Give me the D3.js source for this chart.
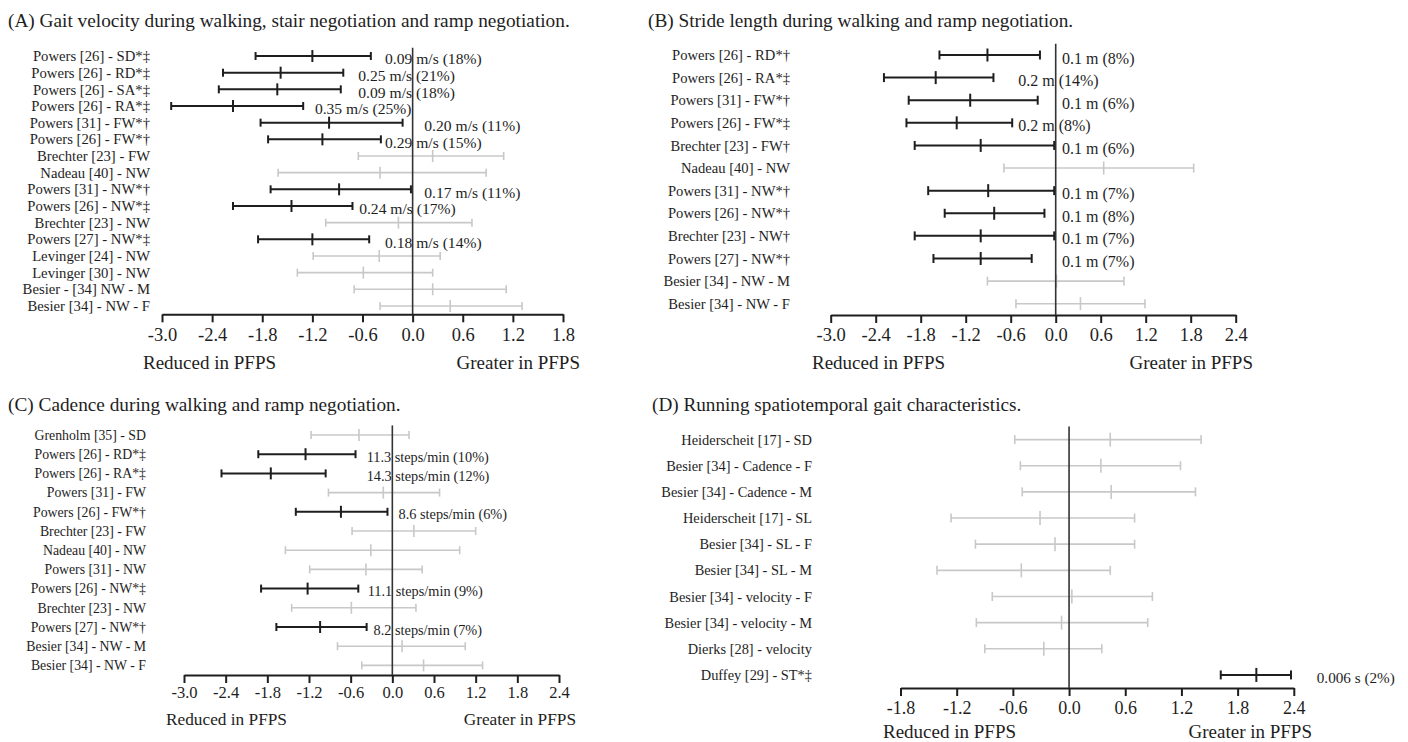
<!DOCTYPE html>
<html><head><meta charset="utf-8">
<script src="https://cdn.jsdelivr.net/npm/d3@7"></script>
<style>
body{margin:0;background:#fff}
svg{display:block}
text{font-family:"Liberation Serif","Times New Roman",serif;fill:#1e1e1e}
</style>
</head><body>
<svg id="chart" width="1408" height="742"></svg>
<script>
// ---------- Panel A : Gait velocity ----------
const titleA = "(A) Gait velocity during walking, stair negotiation and ramp negotiation.";
const labelsA = ["Powers [26] - SD*‡","Powers [26] - RD*‡","Powers [26] - SA*‡","Powers [26] - RA*‡",
  "Powers [31] - FW*†","Powers [26] - FW*†","Brechter [23] - FW","Nadeau [40] - NW",
  "Powers [31] - NW*†","Powers [26] - NW*‡","Brechter [23] - NW","Powers [27] - NW*‡",
  "Levinger [24] - NW","Levinger [30] - NW","Besier - [34] NW - M","Besier [34] - NW - F"];
const meanA = [-1.20,-1.58,-1.62,-2.15,-1.00,-1.08,0.24,-0.39,-0.88,-1.45,-0.17,-1.20,-0.40,-0.59,0.24,0.45];
const lowA  = [-1.88,-2.27,-2.32,-2.89,-1.82,-1.73,-0.65,-1.61,-1.70,-2.15,-1.04,-1.85,-1.19,-1.38,-0.70,-0.39];
const highA = [-0.50,-0.83,-0.86,-1.31,-0.12,-0.38,1.09,0.88,-0.02,-0.72,0.71,-0.52,0.33,0.24,1.12,1.31];
const sigA  = [true,true,true,true,true,true,false,false,true,true,false,true,false,false,false,false];
const annotA = ["0.09 m/s (18%)","0.25 m/s (21%)","0.09 m/s (18%)","0.35 m/s (25%)","0.20 m/s (11%)",
  "0.29 m/s (15%)","","","0.17 m/s (11%)","0.24 m/s (17%)","","0.18 m/s (14%)","","","",""];
const annotAtA = [-0.33,-0.65,-0.65,-1.17,0.14,-0.33,null,null,0.14,-0.64,null,-0.33,null,null,null,null];
const ticksA = [-3.0,-2.4,-1.8,-1.2,-0.6,0.0,0.6,1.2,1.8];

// ---------- Panel B : Stride length ----------
const titleB = "(B) Stride length during walking and ramp negotiation.";
const labelsB = ["Powers [26] - RD*†","Powers [26] - RA*‡","Powers [31] - FW*†","Powers [26] - FW*‡",
  "Brechter [23] - FW†","Nadeau [40] - NW","Powers [31] - NW*†","Powers [26] - NW*†",
  "Brechter [23] - NW†","Powers [27] - NW*†","Besier [34] - NW - M","Besier [34] - NW - F"];
const meanB = [-0.91,-1.60,-1.14,-1.32,-1.00,0.64,-0.90,-0.82,-1.00,-1.00,0.01,0.33];
const lowB  = [-1.55,-2.29,-1.96,-1.99,-1.88,-0.69,-1.70,-1.48,-1.88,-1.63,-0.91,-0.53];
const highB = [-0.21,-0.83,-0.24,-0.58,-0.02,1.84,-0.02,-0.15,-0.02,-0.32,0.91,1.19];
const sigB  = [true,true,true,true,true,false,true,true,true,true,false,false];
const annotB = ["0.1 m (8%)","0.2 m (14%)","0.1 m (6%)","0.2 m (8%)","0.1 m (6%)","",
  "0.1 m (7%)","0.1 m (8%)","0.1 m (7%)","0.1 m (7%)","",""];
const annotAtB = [0.085,-0.50,0.085,-0.50,0.085,null,0.085,0.085,0.085,0.085,null,null];
const ticksB = [-3.0,-2.4,-1.8,-1.2,-0.6,0.0,0.6,1.2,1.8,2.4];

// ---------- Panel C : Cadence ----------
const titleC = "(C) Cadence during walking and ramp negotiation.";
const labelsC = ["Grenholm [35] - SD","Powers [26] - RD*‡","Powers [26] - RA*‡","Powers [31] - FW",
  "Powers [26] - FW*†","Brechter [23] - FW","Nadeau [40] - NW","Powers [31] - NW",
  "Powers [26] - NW*‡","Brechter [23] - NW","Powers [27] - NW*†","Besier [34] - NW - M","Besier [34] - NW - F"];
const meanC = [-0.48,-1.25,-1.75,-0.13,-0.74,0.31,-0.31,-0.38,-1.22,-0.59,-1.04,0.14,0.45];
const lowC  = [-1.17,-1.93,-2.46,-0.92,-1.39,-0.58,-1.54,-1.19,-1.89,-1.45,-1.67,-0.79,-0.44];
const highC = [0.24,-0.53,-0.96,0.68,-0.07,1.20,0.97,0.43,-0.49,0.34,-0.37,1.05,1.30];
const sigC  = [false,true,true,false,true,false,false,false,true,false,true,false,false];
const annotC = ["","11.3 steps/min (10%)","14.3 steps/min (12%)","","8.6 steps/min (6%)","","","",
  "11.1 steps/min (9%)","","8.2 steps/min (7%)","",""];
const annotAtC = [null,-0.37,-0.37,null,0.09,null,null,null,-0.355,null,-0.27,null,null];
const ticksC = [-3.0,-2.4,-1.8,-1.2,-0.6,0.0,0.6,1.2,1.8,2.4];

// ---------- Panel D : Running ----------
const titleD = "(D) Running spatiotemporal gait characteristics.";
const labelsD = ["Heiderscheit [17] - SD","Besier [34] - Cadence - F","Besier [34] - Cadence - M",
  "Heiderscheit [17] - SL","Besier [34] - SL - F","Besier [34] - SL - M","Besier [34] - velocity - F",
  "Besier [34] - velocity - M","Dierks [28] - velocity","Duffey [29] - ST*‡"];
const meanD = [0.44,0.34,0.45,-0.31,-0.15,-0.51,0.03,-0.08,-0.27,2.00];
const lowD  = [-0.58,-0.52,-0.50,-1.26,-1.00,-1.41,-0.82,-0.99,-0.90,1.62];
const highD = [1.41,1.19,1.35,0.70,0.70,0.44,0.89,0.84,0.35,2.37];
const sigD  = [false,false,false,false,false,false,false,false,false,true];
const annotD = ["","","","","","","","","","0.006 s (2%)"];
const annotAtD = [null,null,null,null,null,null,null,null,null,2.645];
const ticksD = [-1.8,-1.2,-0.6,0.0,0.6,1.2,1.8,2.4];

const axisLeft = "Reduced in PFPS", axisRight = "Greater in PFPS";

const svg = d3.select("#chart");
const BLACK = "#1e1e1e", GRAY = "#c8c8c8";

function panel(cfg, t) {
  const rows = t.labels.map((l, i) => ({label: l, mean: t.mean[i], lo: t.low[i], hi: t.high[i],
    sig: t.sig[i], annot: t.annot[i], at: t.annotAt[i]}));
  const x = d3.scaleLinear().domain([t.ticks[0], t.ticks[t.ticks.length - 1]]).range(cfg.xr);
  const y = d3.scaleBand().domain(t.labels).range(cfg.yr);
  const g = svg.append("g");

  g.append("text").attr("x", cfg.titleX).attr("y", cfg.titleY).attr("font-size", cfg.titleFs)
    .text(t.title);

  g.selectAll("text.lab").data(rows).join("text").attr("class", "lab")
    .attr("x", cfg.labX).attr("y", d => y(d.label) + y.bandwidth() / 2)
    .attr("dy", "0.35em").attr("text-anchor", "end").attr("font-size", cfg.labFs)
    .text(d => d.label);

  // gray first, then black
  const ordered = rows.filter(d => !d.sig).concat(rows.filter(d => d.sig));
  const bars = g.selectAll("g.bar").data(ordered).join("g").attr("class", "bar")
    .attr("transform", d => `translate(0,${y(d.label) + y.bandwidth() / 2})`)
    .attr("stroke", d => d.sig ? BLACK : GRAY)
    .attr("stroke-width", d => d.sig ? 2 : 1.6);
  bars.append("line").attr("x1", d => x(d.lo)).attr("x2", d => x(d.hi)).attr("y1", 0).attr("y2", 0);
  bars.append("line").attr("x1", d => x(d.lo)).attr("x2", d => x(d.lo)).attr("y1", -cfg.cap).attr("y2", cfg.cap);
  bars.append("line").attr("x1", d => x(d.hi)).attr("x2", d => x(d.hi)).attr("y1", -cfg.cap).attr("y2", cfg.cap);
  bars.append("line").attr("x1", d => x(d.mean)).attr("x2", d => x(d.mean)).attr("y1", -cfg.mid).attr("y2", cfg.mid);

  g.selectAll("text.ann").data(rows.filter(d => d.annot)).join("text").attr("class", "ann")
    .attr("x", d => x(d.at)).attr("y", d => y(d.label) + y.bandwidth() / 2 + cfg.annDy)
    .attr("dy", "0.35em").attr("font-size", cfg.annFs).text(d => d.annot);

  const ax = g.append("g").attr("transform", `translate(0,${cfg.yr[1]})`)
    .call(d3.axisBottom(x).tickValues(t.ticks).tickFormat(d => d.toFixed(1))
      .tickSize(8).tickSizeOuter(0).tickPadding(cfg.tickPad));
  ax.select(".domain").attr("stroke", BLACK).attr("stroke-width", 2);
  ax.selectAll(".tick line").attr("stroke", BLACK).attr("stroke-width", 2);
  ax.selectAll(".tick text").attr("font-size", cfg.tickFs).attr("fill", "#1e1e1e")
    .attr("font-family", '"Liberation Serif","Times New Roman",serif');

  g.append("text").attr("x", cfg.redX).attr("y", cfg.sideY).attr("dy", "0.35em")
    .attr("font-size", cfg.sideFs).text(axisLeft);
  g.append("text").attr("x", cfg.greX).attr("y", cfg.sideY).attr("dy", "0.35em")
    .attr("text-anchor", "end").attr("font-size", cfg.sideFs).text(axisRight);

  g.append("line").attr("x1", x(0)).attr("x2", x(0)).attr("y1", cfg.yr[0]).attr("y2", cfg.yr[1])
    .attr("stroke", "#333").attr("stroke-width", 1.6);
}

panel({xr: [162, 563], yr: [47.7, 314.3], titleX: 8, titleY: 26.5, titleFs: 19.3, labX: 150, labFs: 14.7,
  cap: 4, mid: 6, annFs: 15.6, annDy: 3, tickPad: 6, tickFs: 18.5, redX: 143, greX: 580, sideY: 362, sideFs: 19},
  {title: titleA, labels: labelsA, mean: meanA, low: lowA, high: highA, sig: sigA, annot: annotA, annotAt: annotAtA, ticks: ticksA});

panel({xr: [830.7, 1235.7], yr: [43.7, 315], titleX: 648, titleY: 26.5, titleFs: 19.3, labX: 790, labFs: 14.6,
  cap: 4.5, mid: 6.5, annFs: 16, annDy: 3, tickPad: 5, tickFs: 18.5, redX: 812, greX: 1253, sideY: 362, sideFs: 19},
  {title: titleB, labels: labelsB, mean: meanB, low: lowB, high: highB, sig: sigB, annot: annotB, annotAt: annotAtB, ticks: ticksB});

panel({xr: [184, 559], yr: [425.4, 675], titleX: 8, titleY: 411, titleFs: 19.3, labX: 146, labFs: 13.8,
  cap: 4, mid: 6, annFs: 14.3, annDy: 2.5, tickPad: 3.2, tickFs: 16.5, redX: 166, greX: 576, sideY: 719, sideFs: 17.3},
  {title: titleC, labels: labelsC, mean: meanC, low: lowC, high: highC, sig: sigC, annot: annotC, annotAt: annotAtC, ticks: ticksC});

panel({xr: [900.5, 1293.8], yr: [426.5, 688], titleX: 652, titleY: 411, titleFs: 19.2, labX: 812, labFs: 14.4,
  cap: 4.5, mid: 7, annFs: 15.2, annDy: 2.5, tickPad: 5.2, tickFs: 18, redX: 883, greX: 1312, sideY: 731, sideFs: 19},
  {title: titleD, labels: labelsD, mean: meanD, low: lowD, high: highD, sig: sigD, annot: annotD, annotAt: annotAtD, ticks: ticksD});
</script>
</body></html>
